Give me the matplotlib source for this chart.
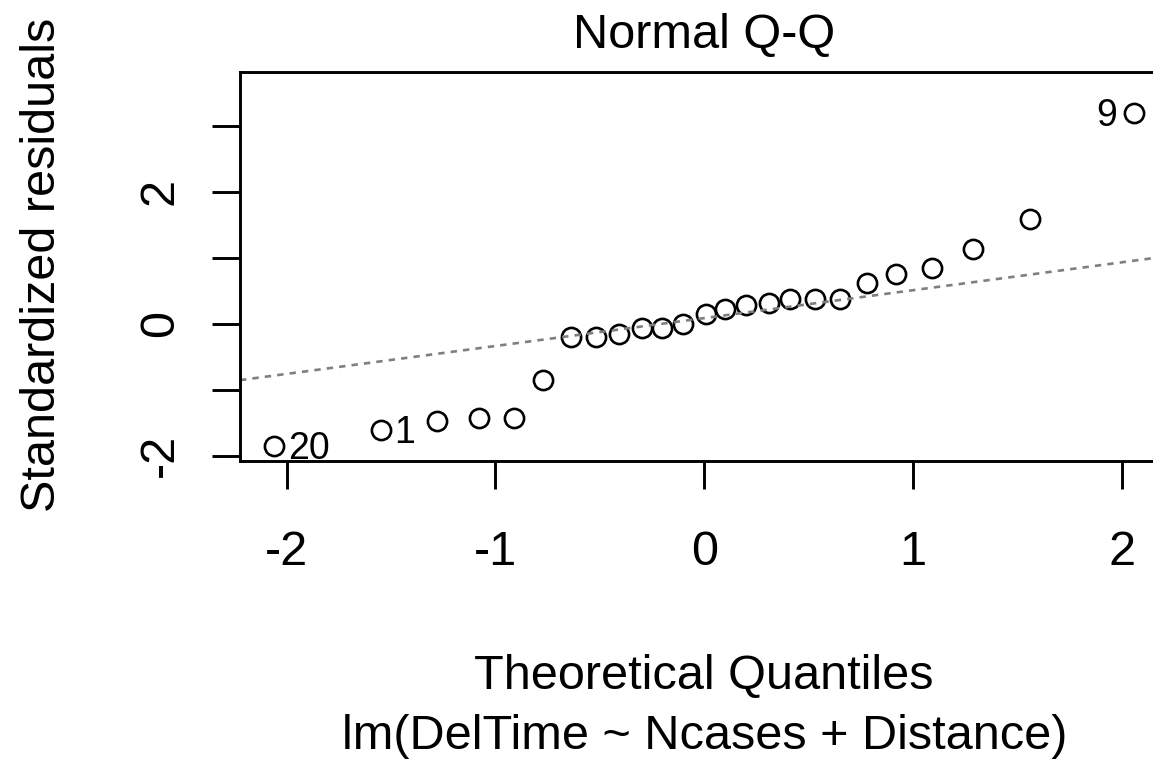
import numpy as np
import matplotlib
matplotlib.use("Agg")
import matplotlib.pyplot as plt

plt.rcParams["font.family"] = ["Liberation Sans", "DejaVu Sans"]
plt.rcParams["lines.scale_dashes"] = False

# theoretical quantiles and standardized residuals
theo_q = [-2.06, -1.55, -1.28, -1.08, -0.91, -0.77, -0.64, -0.52, -0.41,
          -0.30, -0.20, -0.10, 0.01, 0.10, 0.20, 0.31, 0.41, 0.53, 0.65,
          0.78, 0.92, 1.09, 1.29, 1.56, 2.06]
std_resid = [-1.85, -1.61, -1.47, -1.43, -1.43, -0.86, -0.20, -0.20, -0.16,
             -0.06, -0.06, 0.00, 0.14, 0.23, 0.28, 0.32, 0.37, 0.37, 0.37,
             0.61, 0.75, 0.84, 1.13, 1.59, 3.20]
# observation ids of the flagged points
label_idx = [0, 1, 24]
label_txt = ["20", "1", "9"]

x_ticks = [-2, -1, 0, 1, 2]
y_ticks = [-2, -1, 0, 1, 2, 3]
y_ticklabels = ["-2", "", "0", "", "2", ""]

W, H = 1153, 761
fig = plt.figure(figsize=(W / 100, H / 100), dpi=100)

# axes box in pixels: left 240, top 72, bottom 461, right edge off the picture
left, top, bottom, right = 240, 72, 461, 1168.4
ax = fig.add_axes([left / W, (H - bottom) / H, (right - left) / W, (bottom - top) / H])

ax.plot(theo_q, std_resid, linestyle="none", marker="o", markersize=13.8,
        markerfacecolor="none", markeredgecolor="black", markeredgewidth=1.9)

# qqline through the quartiles, as R does
q1, q3 = np.quantile(std_resid, [0.25, 0.75])
slope = (q3 - q1) / (2 * 0.6745)
intercept = q3 - slope * 0.6745
ax.axline((0, intercept), slope=slope, color="#7f7f7f", linewidth=1.9,
          dashes=(4.6, 4.4))

for i, t in zip(label_idx, label_txt):
    if theo_q[i] > 0:
        ax.annotate(t, (theo_q[i], std_resid[i]), xytext=(-12.3, -9.6),
                    textcoords="offset points", ha="right", va="baseline", fontsize=27)
    else:
        ax.annotate(t, (theo_q[i], std_resid[i]), xytext=(9.8, -9.6),
                    textcoords="offset points", ha="left", va="baseline", fontsize=27)

ax.set_xlim(-2.224, 2.224)
ax.set_ylim(-2.08, 3.814)

ax.set_xticks(x_ticks)
ax.set_xticklabels([str(v) for v in x_ticks])
ax.set_yticks(y_ticks)
ax.set_yticklabels(y_ticklabels, rotation=90)
for lab in ax.get_yticklabels():
    lab.set_rotation_mode("anchor")
    lab.set_ha("center")
    lab.set_va("baseline")

ax.tick_params(axis="both", length=20.5, width=2.1, labelsize=35, direction="out")
ax.tick_params(axis="x", pad=29.5)
ax.tick_params(axis="y", pad=28)
for sp in ax.spines.values():
    sp.set_linewidth(2.1)

fig.text(704 / W, 1 - 48 / H, "Normal Q-Q", ha="center", va="baseline", fontsize=35)
fig.text(704 / W, 1 - 689 / H, "Theoretical Quantiles", ha="center", va="baseline", fontsize=35)
fig.text(705 / W, 1 - 749 / H, "lm(DelTime ~ Ncases + Distance)", ha="center",
         va="baseline", fontsize=35)
fig.text(55 / W, 1 - 265 / H, "Standardized residuals", rotation=90,
         rotation_mode="anchor", ha="center", va="baseline", fontsize=35)

fig.savefig("out.png", dpi=100)
